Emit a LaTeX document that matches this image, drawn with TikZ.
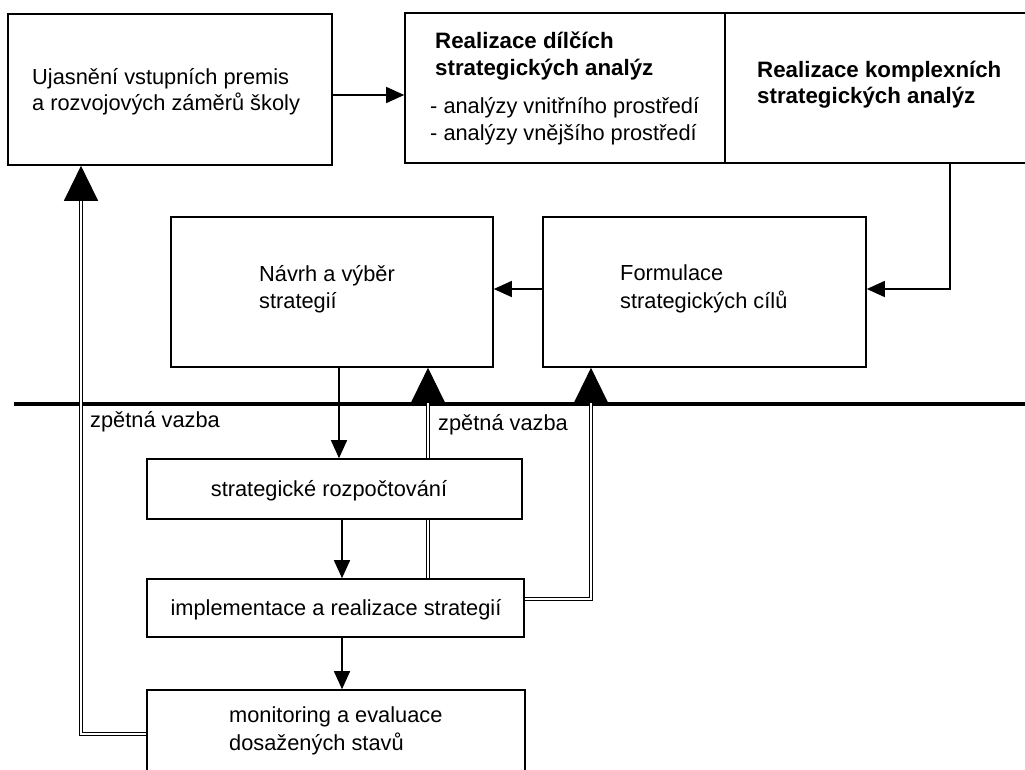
\documentclass[tikz,border=0pt]{standalone}
\usepackage{fontspec}
\setmainfont{Liberation Sans}
\usetikzlibrary{arrows.meta}
\begin{document}
\begin{tikzpicture}[x=1pt,y=-1pt,
  box/.style={draw,line width=1.6pt,rectangle,inner sep=0pt},
  txt/.style={inner sep=0pt,anchor=base west,font=\fontsize{21.8}{27}\selectfont},
  btxt/.style={inner sep=0pt,anchor=base west,font=\fontsize{22.3}{27}\bfseries},
  arr/.style={line width=1.5pt,-{Triangle[length=18pt,width=16pt]}},
  dblline/.style={line width=1.2pt,double,double distance=2.2pt},
  dbl/.style={dblline,-{Triangle[length=35pt,width=34pt]}}]
\useasboundingbox (0,0) rectangle (1025,769);
\clip (0,0) rectangle (1025,769);

% upper boxes
\node[box,minimum width=324pt,minimum height=151pt] (b1) at (170,89.5) {};
\node[box,minimum width=320pt,minimum height=150pt] (b2) at (565,88) {};
\node[box,minimum width=330pt,minimum height=150pt] (b3) at (890,88) {};
\node[box,minimum width=322pt,minimum height=150pt] (navrh) at (332,292) {};
\node[box,minimum width=323pt,minimum height=150pt] (form) at (704.5,292) {};

% lower boxes
\node[box,minimum width=375pt,minimum height=60pt] (rozp) at (334.5,489) {};
\node[box,minimum width=377pt,minimum height=58pt] (impl) at (335.5,608) {};
\node[box,minimum width=378pt,minimum height=110pt] (mon) at (336,745) {};

% texts
\node[txt] (t1a) at (32,84) {Ujasnění vstupních premis};
\node[txt] (t1b) at (32,110) {a rozvojových záměrů školy};
\node[btxt] (t2a) at (435,48) {Realizace dílčích};
\node[btxt] (t2b) at (435,75) {strategických analýz};
\node[txt] (t2c) at (430,113) {- analýzy vnitřního prostředí};
\node[txt] (t2d) at (430,140) {- analýzy vnějšího prostředí};
\node[btxt] (t3a) at (757,77) {Realizace komplexních};
\node[btxt] (t3b) at (757,103) {strategických analýz};
\node[txt] (tna) at (259,281) {Návrh a výběr};
\node[txt] (tnb) at (259,308) {strategií};
\node[txt] (tfa) at (620,280) {Formulace};
\node[txt] (tfb) at (620,308) {strategických cílů};
\node[txt,anchor=base] (tr) at (329,496) {strategické rozpočtování};
\node[txt,anchor=base] (ti) at (336,615) {implementace a realizace strategií};
\node[txt] (tma) at (229,722) {monitoring a evaluace};
\node[txt] (tmb) at (229,750) {dosažených stavů};
\node[txt] (z1) at (90,427) {zpětná vazba};
\node[txt] (z2) at (438,430) {zpětná vazba};

% dividing line
\coordinate (hl) at (14,404);
\coordinate (hr) at (1030,404);
\draw[line width=4pt] (hl) -- (hr);

% main flow
\coordinate (r1) at (0,95);
\draw[arr] (b1.east |- r1) -- (b2.west |- r1);
\coordinate (c1) at (950,289);
\draw[arr] (b3.south -| c1) |- (form.east |- c1);
\draw[arr] (form.west |- c1) -- (navrh.east |- c1);
\coordinate (c2) at (339,0);
\draw[arr] (navrh.south -| c2) -- (rozp.north -| c2);
\coordinate (c3) at (342,0);
\draw[arr] (rozp.south -| c3) -- (impl.north -| c3);
\draw[arr] (impl.south -| c3) -- (mon.north -| c3);

% feedback loops
\coordinate (f1) at (81,734);
\draw[dbl] (mon.west |- f1) -| (b1.south -| f1);
\coordinate (f2) at (428,0);
\draw[dblline] (impl.north -| f2) -- (rozp.south -| f2);
\draw[dbl] (rozp.north -| f2) -- (navrh.south -| f2);
\coordinate (f3) at (591,599);
\draw[dbl] (impl.east |- f3) -| (form.south -| f3);
\end{tikzpicture}
\end{document}
